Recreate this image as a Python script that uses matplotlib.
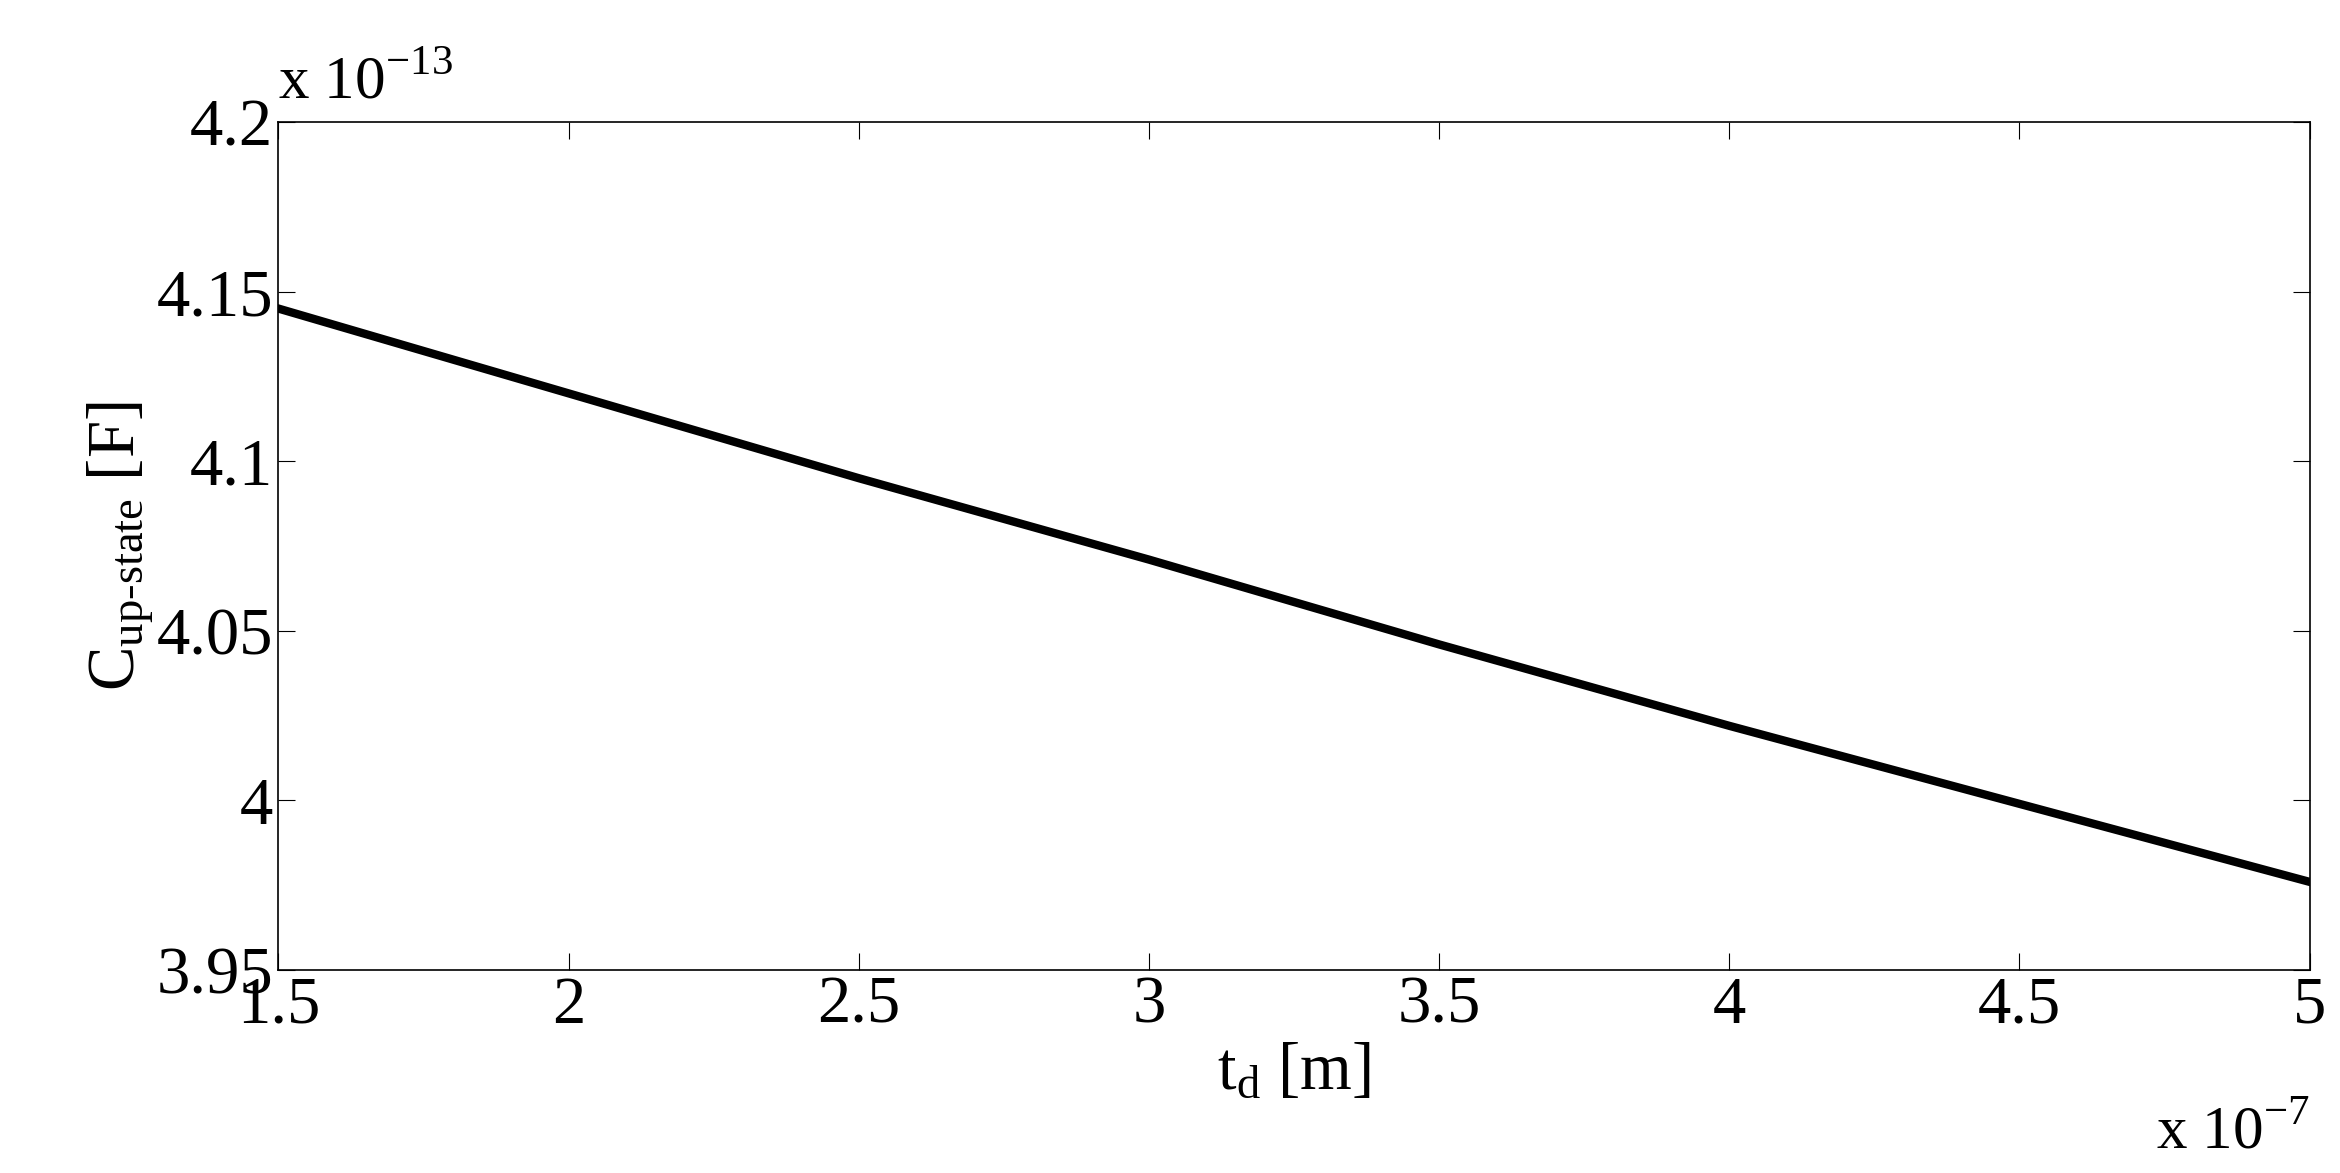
import matplotlib
matplotlib.use('Agg')
import matplotlib.pyplot as plt

plt.rcParams['font.family'] = ['Liberation Serif', 'DejaVu Serif']
plt.rcParams['mathtext.fontset'] = 'custom'
plt.rcParams['mathtext.rm'] = 'Liberation Serif'

td = [1.5e-7, 2.0e-7, 2.5e-7, 3.0e-7, 3.5e-7, 4.0e-7, 4.5e-7, 5.0e-7]
c_up = [4.145e-13, 4.120e-13, 4.095e-13, 4.071e-13, 4.046e-13, 4.022e-13, 3.999e-13, 3.976e-13]
xticks = [1.5, 2, 2.5, 3, 3.5, 4, 4.5, 5]
yticks = [3.95, 4.0, 4.05, 4.1, 4.15, 4.2]

fig = plt.figure(figsize=(23.4, 11.73), dpi=100)
ax = fig.add_axes([0.119, 0.173, 0.868, 0.723])
ax.plot([v * 1e7 for v in td], [v * 1e13 for v in c_up], color='black', lw=6)
ax.set_xlim(1.5, 5)
ax.set_ylim(3.95, 4.2)
ax.set_xticks(xticks)
ax.set_xticklabels(['1.5', '2', '2.5', '3', '3.5', '4', '4.5', '5'])
ax.set_yticks(yticks)
ax.set_yticklabels(['3.95', '4', '4.05', '4.1', '4.15', '4.2'])
ax.tick_params(direction='in', length=12, labelsize=48, top=True, right=True, pad=4)
for s in ax.spines.values():
    s.set_linewidth(1.2)

ax.set_xlabel(r'$\mathrm{t_d}$ [m]', fontsize=48, labelpad=4)
ax.set_ylabel(r'$\mathrm{C_{up\text{-}state}}$ [F]', fontsize=48, labelpad=0)
fig.text(0.119, 0.905, r'x 10$^{\mathrm{-13}}$', fontsize=44, ha='left', va='bottom')
fig.text(0.987, 0.01, r'x 10$^{\mathrm{-7}}$', fontsize=44, ha='right', va='bottom')

fig.savefig('out.png', dpi=100)
